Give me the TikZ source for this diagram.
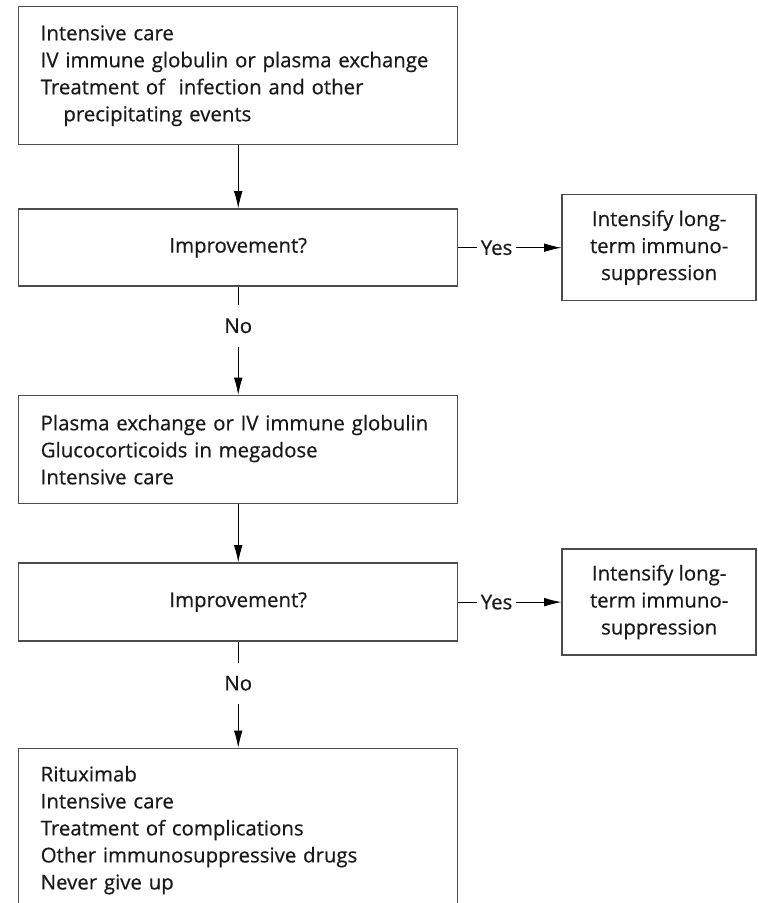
\documentclass[tikz,border=0pt]{standalone}
\usepackage{fontspec}
\setmainfont{Open Sans}[FakeBold=0.5]
\usetikzlibrary{positioning,arrows.meta}

\begin{document}
\begin{tikzpicture}[
  node distance=47.25pt and 77.25pt,
  boxfont/.style={font=\fontsize{15.3pt}{20.25pt}\selectfont, text=black!90,
    execute at begin node={\hyphenpenalty=10000}},
  stepbox/.style={draw=black!70, line width=1.1pt, boxfont, minimum width=329.25pt,
    inner xsep=16.5pt, inner ysep=0pt, text width=296.25pt, align=left},
  askbox/.style={stepbox, align=center, minimum height=57.75pt},
  sidebox/.style={draw=black!70, line width=1.1pt, boxfont, minimum width=145.5pt,
    minimum height=79.5pt, inner sep=2pt, align=center},
  arrow/.style={-{Latex[length=13pt,width=6.5pt]}, line width=0.7pt},
  answer/.style={fill=white, boxfont, inner xsep=3pt, inner ysep=10pt}
]
\useasboundingbox (0,0) rectangle (567.75pt,-677.25pt);

\node[stepbox, minimum height=103.5pt, anchor=north west] (care) at (13.5pt,-4.5pt)
  {Intensive care\\IV immune globulin or plasma exchange\\Treatment of\ \ infection and other\\\hspace*{17pt}precipitating events};
\node[askbox, below=of care] (improve1) {Improvement?};
\node[sidebox, right=of improve1] (intensify1) {Intensify long-\\term immuno-\\suppression};
\node[stepbox, minimum height=81pt, below=81pt of improve1] (exchange)
  {Plasma exchange or IV immune globulin\\Glucocorticoids in megadose\\Intensive care};
\node[askbox, minimum height=58.5pt, below=43.5pt of exchange] (improve2) {Improvement?};
\node[sidebox, right=of improve2] (intensify2) {Intensify long-\\term immuno-\\suppression};
\node[stepbox, inner ysep=13pt, below=79.5pt of improve2] (rescue)
  {Rituximab\\Intensive care\\Treatment of complications\\Other immunosuppressive drugs\\Never give up\rule[-40pt]{0pt}{0pt}};

\draw[arrow] (care) -- (improve1);
\draw[arrow] (improve1) -- node[answer, pos=0.37] {Yes} (intensify1);
\draw[arrow] (improve1) -- node[answer, pos=0.36] {No} (exchange);
\draw[arrow] (exchange) -- (improve2);
\draw[arrow] (improve2) -- node[answer, pos=0.37] {Yes} (intensify2);
\draw[arrow] (improve2) -- node[answer, pos=0.39] {No} (rescue);

\end{tikzpicture}
\end{document}
